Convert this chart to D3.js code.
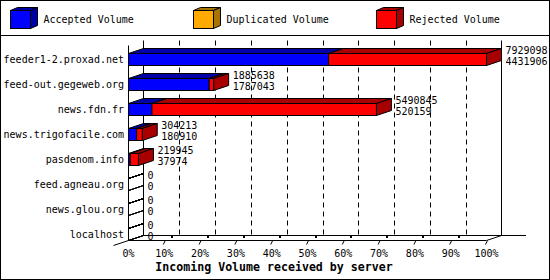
<!DOCTYPE html>
<html>
<head>
<meta charset="utf-8">
<script src="https://cdn.jsdelivr.net/npm/d3@7"></script>
<style>
  body { margin: 0; background: #fff; }
  text { font-family: "DejaVu Sans Mono", "Liberation Mono", monospace; font-size: 10px; fill: #000; }
</style>
</head>
<body>
<svg id="figure"></svg>
<script>
// values
const servers = ["feeder1-2.proxad.net", "feed-out.gegeweb.org", "news.fdn.fr", "news.trigofacile.com",
                 "pasdenom.info", "feed.agneau.org", "news.glou.org", "localhost"];
const accepted   = [4431906, 1787043, 520159, 180910, 37974, 0, 0, 0];
const duplicated = [0, 0, 0, 0, 0, 0, 0, 0];
const rejected   = [3497192, 98595, 4970686, 123303, 181971, 0, 0, 0];
const totals     = [7929098, 1885638, 5490845, 304213, 219945, 0, 0, 0];
const tickPct    = [0, 10, 20, 30, 40, 50, 60, 70, 80, 90, 100];
const seriesNames = ["Accepted Volume", "Duplicated Volume", "Rejected Volume"];

const fronts = ["#0000ff", "#ffaa00", "#ff0000"];
const darks  = ["#0000a8", "#a87400", "#a80000"];

const width = 550, height = 280;
const DX = 15, DY = 5;   // 3d depth offset

const svg = d3.select("#figure")
    .attr("width", width)
    .attr("height", height);

// frame + legend separator
svg.append("rect").attr("x", 0.5).attr("y", 0.5).attr("width", width - 1).attr("height", height - 1)
    .attr("fill", "#fff").attr("stroke", "#000");
svg.append("line").attr("x1", 0).attr("x2", width).attr("y1", 35.5).attr("y2", 35.5).attr("stroke", "#000");

function cube(g, x, y, w, h, dx, dy, front, dark) {
    // zero width box: only the outline of its faces is left
    if (w === 0) { front = "none"; dark = "none"; }
    g.append("polygon")
        .attr("points", [[x, y], [x + dx, y - dy], [x + w + dx, y - dy], [x + w, y]].join(" "))
        .attr("fill", dark).attr("stroke", "#000");
    g.append("polygon")
        .attr("points", [[x + w, y], [x + w + dx, y - dy], [x + w + dx, y + h - dy], [x + w, y + h]].join(" "))
        .attr("fill", dark).attr("stroke", "#000");
    g.append("rect").attr("x", x).attr("y", y).attr("width", w).attr("height", h)
        .attr("fill", front).attr("stroke", "#000");
}

// legend
const legend = svg.append("g");
seriesNames.forEach((name, i) => {
    const lx = 10.5 + i * 183;
    cube(legend, lx, 10.5, 20, 18, 7, 3, fronts[i], darks[i]);
    legend.append("text").attr("x", lx + 33).attr("y", 23).text(name);
});

const maxTotal = d3.max(totals);

const x = d3.scaleLinear()
    .domain([0, maxTotal])
    .range([128.5, 486.5]);

const y = d3.scaleBand()
    .domain(servers)
    .range([47, 247]);

const yFront = 240.5, yBack = 235.5;

// back wall grid
const grid = svg.append("g");
tickPct.slice(1, -1).forEach(p => {
    const gx = Math.round(x(maxTotal * p / 100) + DX) + 0.5;
    grid.append("line")
        .attr("x1", gx).attr("x2", gx).attr("y1", 40.5).attr("y2", yBack)
        .attr("stroke", "#000").attr("stroke-dasharray", "5,4");
});

// axes frame
const axes = svg.append("g").attr("stroke", "#000").attr("fill", "none");
axes.append("line").attr("x1", x(0) + DX).attr("x2", x(0) + DX).attr("y1", 40.5).attr("y2", yBack);
axes.append("line").attr("x1", x(maxTotal) + DX).attr("x2", x(maxTotal) + DX).attr("y1", 40.5).attr("y2", yBack);
axes.append("line").attr("x1", x(0) + DX).attr("x2", 526).attr("y1", yBack).attr("y2", yBack);
axes.append("line").attr("x1", x(0)).attr("x2", x(0)).attr("y1", 45.5).attr("y2", yFront);
axes.append("line").attr("x1", x(0)).attr("x2", x(maxTotal)).attr("y1", yFront).attr("y2", yFront);
axes.append("line").attr("x1", x(0) - DX).attr("y1", yFront + DY).attr("x2", x(0) + DX).attr("y2", yBack);
axes.append("line").attr("x1", x(maxTotal)).attr("y1", yFront).attr("x2", x(maxTotal) + DX).attr("y2", yBack);

// x ticks
tickPct.forEach(p => {
    const tx = x(maxTotal * p / 100);
    if (p > 0) {
        axes.append("line").attr("x1", tx - 1).attr("y1", yFront + 4).attr("x2", tx + 1).attr("y2", yFront);
        if (p < 100) {
            svg.append("rect").attr("x", Math.round(tx + 7)).attr("y", 236).attr("width", 2).attr("height", 2)
                .attr("fill", "#000");
        }
    }
    svg.append("text").attr("x", tx).attr("y", 257).attr("text-anchor", "middle").text(p + "%");
});

// bars
const stacks = [accepted, duplicated, rejected];
const bars = svg.append("g");
servers.forEach((s, i) => {
    const cy = y(s) + y.bandwidth() / 2;
    const top = cy - 6;
    let acc = 0;
    stacks.forEach((vals, k) => {
        const x0 = x(acc), x1 = x(acc + vals[i]);
        acc += vals[i];
        if (vals[i] === 0 && totals[i] > 0) return;
        cube(bars, x0, top, x1 - x0, 12, DX, DY, fronts[k], darks[k]);
    });
    const lx = x(totals[i]) + DX + 4;
    svg.append("text").attr("x", lx).attr("y", cy - 5.5).text(totals[i]);
    svg.append("text").attr("x", lx).attr("y", cy + 5.5).text(accepted[i]);
    svg.append("text").attr("x", 124).attr("y", cy).attr("dy", "0.35em")
        .attr("text-anchor", "end").text(s);
});

svg.append("text")
    .attr("x", 274).attr("y", 271)
    .attr("text-anchor", "middle")
    .style("font-weight", "bold").style("font-size", "11.6px")
    .text("Incoming Volume received by server");
</script>
</body>
</html>
